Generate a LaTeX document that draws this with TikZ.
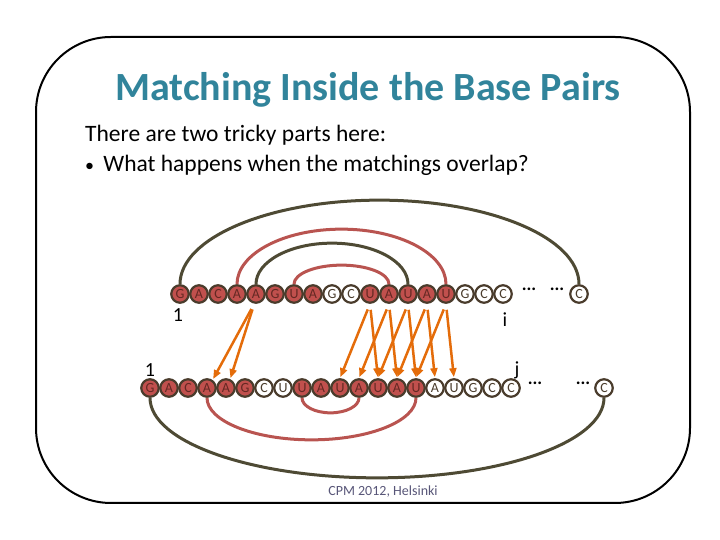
\documentclass[tikz,border=0pt]{standalone}
\usepackage{fontspec}
\setmainfont{Carlito}
\usetikzlibrary{arrows.meta}
\definecolor{ttl}{RGB}{49,132,155}
\definecolor{rnafill}{RGB}{192,80,77}
\definecolor{rnaedge}{RGB}{74,60,44}
\definecolor{rnatext}{RGB}{100,40,35}
\definecolor{darkarc}{RGB}{78,74,52}
\definecolor{redarc}{RGB}{185,84,80}
\definecolor{arr}{RGB}{228,108,10}
\definecolor{foot}{RGB}{88,86,120}
\begin{document}
\begin{tikzpicture}[x=1pt,y=1pt,
 base/.style={circle,draw=rnaedge,line width=2.2pt,minimum size=17.5pt,inner sep=0pt,font=\fontsize{14}{14}\selectfont,text=rnaedge},
 on/.style={base,fill=rnafill,text=rnatext},
 off/.style={base,fill=white},
 darkline/.style={draw=darkarc,line width=3pt},
 redline/.style={draw=redarc,line width=3pt},
 match/.style={draw=arr,line width=2.5pt,-{Triangle[length=9pt,width=7pt]},shorten <=6pt,shorten >=1pt},
 dots/.style={font=\bfseries\fontsize{18}{18}\selectfont,inner sep=0pt},
 idx/.style={font=\fontsize{20}{20}\selectfont,inner sep=0pt}]
\useasboundingbox (0,0) rectangle (720,540);
\draw[line width=2pt,rounded corners=75pt] (36,37) rectangle (690,503);
\node[text=ttl,font=\bfseries\fontsize{40}{40}\selectfont] (title) at (368,450) {Matching Inside the Base Pairs};
\node[anchor=west,font=\fontsize{23.5}{23.5}\selectfont,inner sep=0pt] (l1) at (85,405) {There are two tricky parts here:};
\node[anchor=west,font=\fontsize{23.5}{23.5}\selectfont,inner sep=0pt] (l2) at (85,375) {{\fontsize{18}{18}\selectfont•}\, What happens when the matchings overlap?};
% top row
\foreach \ch/\st [count=\i from 0] in {G/on,A/on,C/on,A/on,A/on,G/on,U/on,A/on,G/off,C/off,U/on,A/on,U/on,A/on,U/on,G/off,C/off,C/off}
  \node[\st] (t\i) at ({180+19*\i},246) {\ch};
\node[dots] (td1) at (529,251) {...};
\node[dots] (td2) at (557,251) {...};
\node[off] (tC) at (579,246) {C};
% bottom row
\foreach \ch/\st [count=\i from 0] in {G/on,A/on,C/on,A/on,A/on,G/on,C/off,U/off,U/on,A/on,U/on,A/on,U/on,A/on,U/on,A/off,U/off,G/off,C/off,C/off}
  \node[\st] (b\i) at ({150+19*\i},152) {\ch};
\node[dots] (bd1) at (535,157) {...};
\node[dots] (bd2) at (583,157) {...};
\node[off] (bC) at (604,152) {C};
% top arcs
\draw[darkline] (t0.north) arc[start angle=180,end angle=0,x radius=199.5pt,y radius=84pt];
\draw[redline] (t3.north) arc[start angle=180,end angle=0,x radius=104.5pt,y radius=55pt];
\draw[darkline] (t4.north) arc[start angle=180,end angle=0,x radius=76pt,y radius=41pt];
\draw[redline] (t6.north) arc[start angle=180,end angle=0,x radius=47.5pt,y radius=19pt];
% bottom arcs
\draw[darkline] (b0.south) arc[start angle=180,end angle=360,x radius=227pt,y radius=80pt];
\draw[redline] (b3.south) arc[start angle=180,end angle=360,x radius=104.5pt,y radius=42pt];
\draw[redline] (b8.south) arc[start angle=180,end angle=360,x radius=28.5pt,y radius=15pt];
% matchings
\draw[match] (t4.260) -- (b3.55);
\draw[match] (t4.260) -- (b4.65);
\foreach \k in {10,...,14} {
  \pgfmathtruncatemacro\m{\k+2}
  \draw[match] (t\k.south) -- (b\k.north);
  \draw[match] (t\k.south) -- (b\m.north);
}
% labels
\node[idx] (one1) at (178,225) {1};
\node[idx] (li) at (505,220) {i};
\node[idx] (one2) at (150,170) {1};
\node[idx] (lj) at (517,170) {j};
\node[text=foot,font=\fontsize{14}{14}\selectfont] (foot) at (383,48) {CPM 2012, Helsinki};
\end{tikzpicture}
\end{document}
